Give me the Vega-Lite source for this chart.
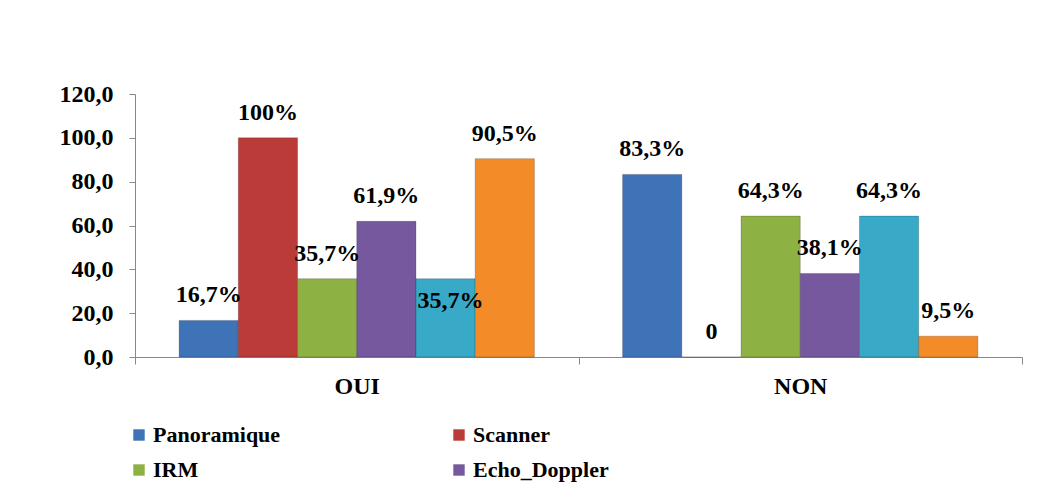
{
  "$schema": "https://vega.github.io/schema/vega-lite/v6.json",
  "width": 887,
  "height": 263,
  "autosize": "none",
  "padding": {"left": 135, "top": 94, "right": 18, "bottom": 130},
  "background": "white",
  "config": {
    "locale": {"number": {"decimal": ",", "thousands": " ", "grouping": [3], "currency": ["", " €"]}},
    "view": {"stroke": null},
    "font": "Liberation Serif",
    "axis": {"labelFont": "Liberation Serif"},
    "legend": {"labelFont": "Liberation Serif"},
    "text": {"font": "Liberation Serif"}
  },
  "data": {
    "values": [
      {"group": "OUI", "series": "Panoramique", "value": 16.7, "label": "16,7%"},
      {"group": "OUI", "series": "Scanner", "value": 100, "label": "100%"},
      {"group": "OUI", "series": "IRM", "value": 35.7, "label": "35,7%"},
      {"group": "OUI", "series": "Echo_Doppler", "value": 61.9, "label": "61,9%"},
      {"group": "OUI", "series": "Radiographie", "value": 35.7, "label": "35,7%"},
      {"group": "OUI", "series": "Autres", "value": 90.5, "label": "90,5%"},
      {"group": "NON", "series": "Panoramique", "value": 83.3, "label": "83,3%"},
      {"group": "NON", "series": "Scanner", "value": 0, "label": "0"},
      {"group": "NON", "series": "IRM", "value": 64.3, "label": "64,3%"},
      {"group": "NON", "series": "Echo_Doppler", "value": 38.1, "label": "38,1%"},
      {"group": "NON", "series": "Radiographie", "value": 64.3, "label": "64,3%"},
      {"group": "NON", "series": "Autres", "value": 9.5, "label": "9,5%"}
    ]
  },
  "encoding": {
    "x": {
      "field": "group", "type": "nominal", "sort": ["OUI", "NON"],
      "scale": {"paddingInner": 0, "paddingOuter": 0},
      "axis": {
        "title": null, "labelAngle": 0, "labelFontSize": 24, "labelFontWeight": "bold",
        "labelFont": "Liberation Serif",
        "labelColor": "black", "domainColor": "#888888", "tickColor": "#888888",
        "tickBand": "extent", "tickSize": 7, "labelPadding": 10
      }
    },
    "xOffset": {
      "field": "series", "type": "nominal",
      "sort": ["Panoramique", "Scanner", "IRM", "Echo_Doppler", "Radiographie", "Autres"],
      "scale": {"paddingInner": 0, "paddingOuter": 0.745}
    },
    "y": {
      "field": "value", "type": "quantitative",
      "scale": {"domain": [0, 120]},
      "axis": {
        "title": null, "values": [0, 20, 40, 60, 80, 100, 120], "format": ".1f", "grid": false,
        "labelFont": "Liberation Serif",
        "labelFontSize": 24, "labelFontWeight": "bold", "labelColor": "black",
        "tickSize": 6, "labelPadding": 16, "domainColor": "#888888", "tickColor": "#888888"
      }
    }
  },
  "layer": [
    {
      "mark": {"type": "bar", "stroke": "#000000", "strokeOpacity": 0.2, "strokeWidth": 1},
      "encoding": {
        "color": {
          "field": "series", "type": "nominal",
          "scale": {
            "domain": ["Panoramique", "IRM", "Radiographie", "Scanner", "Echo_Doppler", "Autres"],
            "range": ["#3E73B8", "#8DB243", "#38A9C6", "#BA3B38", "#76589F", "#F38C28"]
          },
          "legend": {
            "title": null, "orient": "none", "legendX": -7, "legendY": 330,
            "columns": 2, "columnPadding": 159, "rowPadding": 13, "gridAlign": "all",
            "symbolType": "square", "symbolSize": 130, "symbolStrokeWidth": 0, "labelOffset": 3,
            "labelFont": "Liberation Serif",
            "labelFontSize": 22, "labelFontWeight": "bold", "labelColor": "black", "labelLimit": 300
          }
        }
      }
    },
    {
      "transform": [{"filter": "!(datum.group == 'OUI' && datum.series == 'Radiographie')"}],
      "mark": {"type": "text", "dy": -18, "baseline": "alphabetic", "fontSize": 24, "fontWeight": "bold", "color": "black", "font": "Liberation Serif"},
      "encoding": {"text": {"field": "label"}}
    },
    {
      "transform": [{"filter": "datum.group == 'OUI' && datum.series == 'Radiographie'"}],
      "mark": {"type": "text", "dy": 29, "dx": 5, "baseline": "alphabetic", "fontSize": 24, "fontWeight": "bold", "color": "black", "font": "Liberation Serif"},
      "encoding": {"text": {"field": "label"}}
    }
  ]
}
